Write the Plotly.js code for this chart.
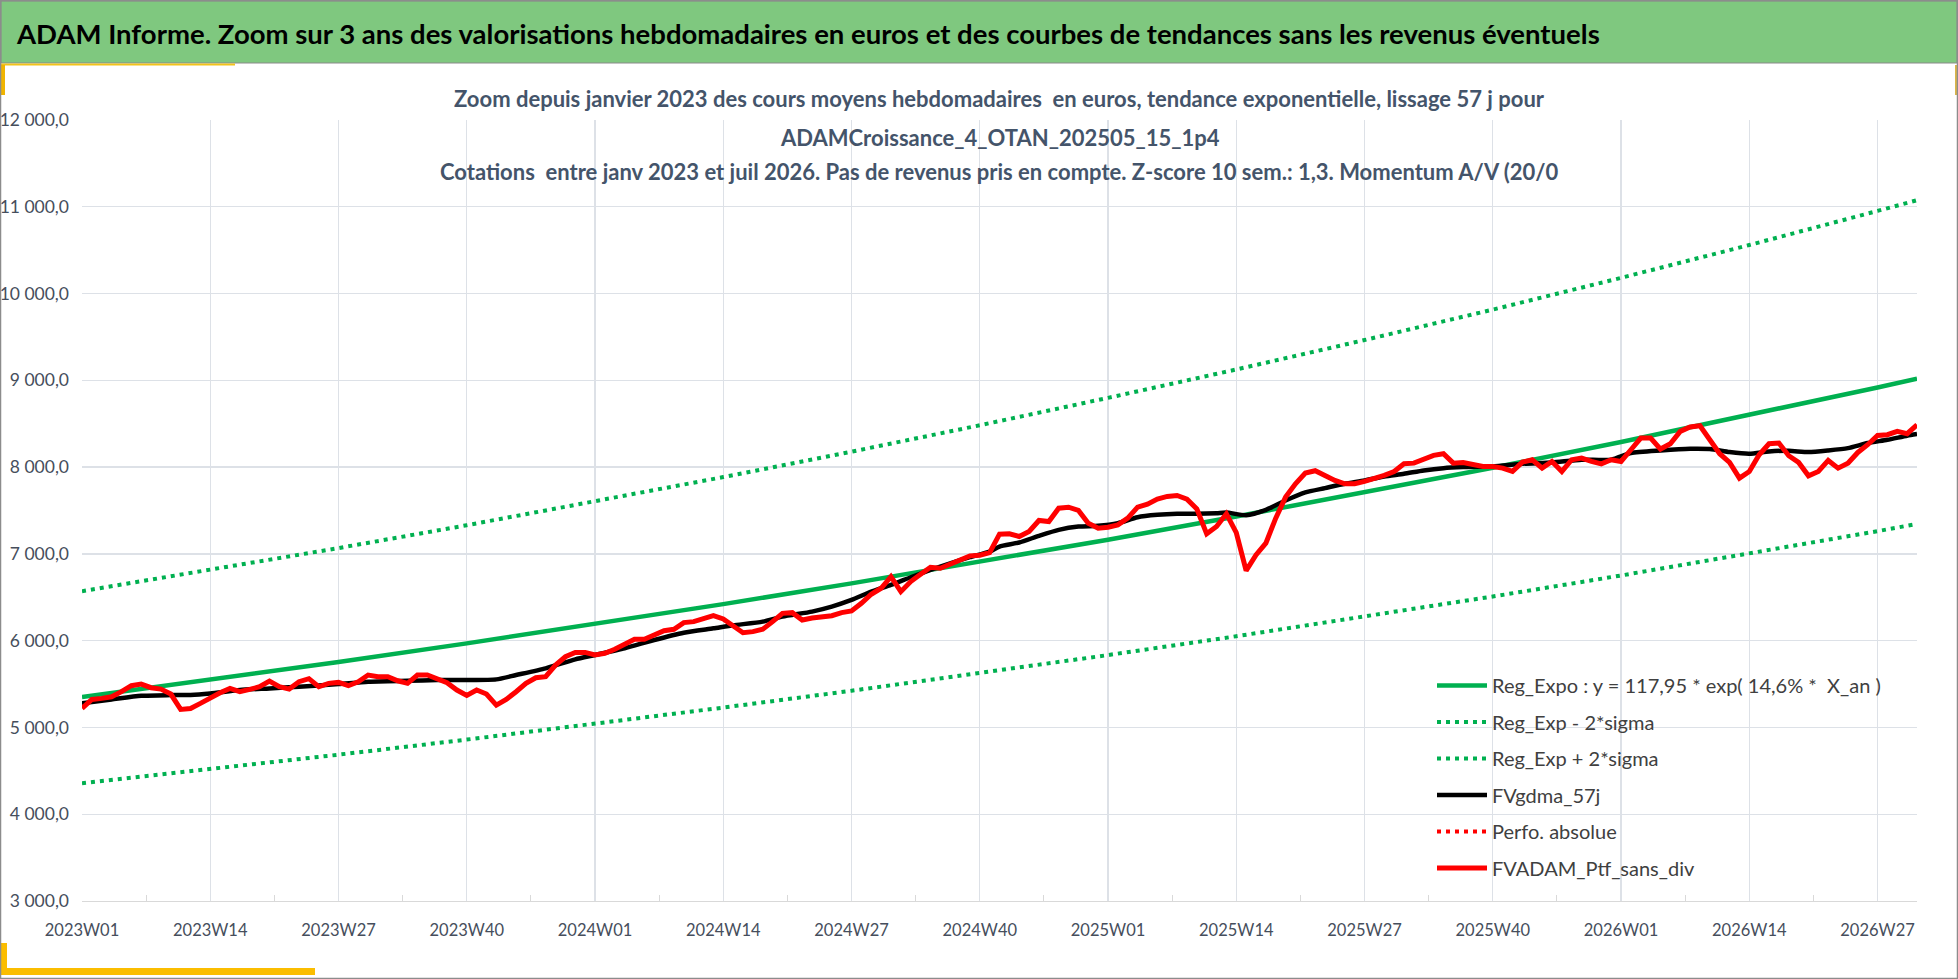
<!DOCTYPE html>
<html>
<head>
<meta charset="utf-8">
<script src="https://cdn.plot.ly/plotly-3.0.1.min.js"></script>
<style>
  html, body { margin: 0; padding: 0; background: #ffffff; }
  #chart { width: 1958px; height: 979px; }
</style>
</head>
<body>
<div id="chart"></div>
<script>
// week labels 2023W01 .. 2026W31 (52 weeks per year on this axis)
var weeks = [];
for (var i = 0; i < 187; i++) {
  weeks.push((2023 + Math.floor(i / 52)) + "W" + String(i % 52 + 1).padStart(2, "0"));
}
var tickIdx = [0, 13, 26, 39, 52, 65, 78, 91, 104, 117, 130, 143, 156, 169, 182];

// exponential regression and +/- 2 sigma bands, read at each labelled week
var regIdx = [0, 13, 26, 39, 52, 65, 78, 91, 104, 117, 130, 143, 156, 169, 182, 186];
var regExpo = [5350, 5549, 5755, 5969, 6191, 6421, 6660, 6907, 7164, 7431, 7707, 7993, 8290, 8599, 8918, 9020];
var regLow = [4357, 4518, 4686, 4860, 5041, 5229, 5423, 5624, 5834, 6051, 6276, 6509, 6751, 7002, 7262, 7345];
var regHigh = [6570, 6814, 7067, 7330, 7603, 7885, 8178, 8482, 8798, 9125, 9464, 9815, 10181, 10559, 10952, 11076];

// smoothed 57 j curve
var gdmaIdx = [0, 3, 6, 9, 11, 13, 16, 19, 22, 26, 29, 33, 36, 39, 42, 44, 47, 50, 52, 55, 58, 61, 64, 66, 69,
  71, 74, 76, 78, 80, 82, 84, 86, 88, 90, 92, 93, 95, 97, 99, 101, 103, 105, 107, 109, 111, 113, 115, 116,
  118, 120, 122, 124, 126, 128, 130, 132, 134, 136, 138, 140, 143, 146, 149, 152, 155, 157, 160, 163, 165,
  167, 169, 171, 173, 175, 177, 179, 181, 183, 185, 186];
var fvgdma = [5280, 5323, 5365, 5373, 5375, 5392, 5431, 5450, 5470, 5500, 5527, 5538, 5546, 5546, 5554, 5604,
  5681, 5785, 5835, 5912, 6008, 6092, 6142, 6177, 6219, 6277, 6335, 6392, 6469, 6565, 6642, 6731, 6815, 6892,
  6962, 7027, 7085, 7131, 7208, 7277, 7315, 7323, 7354, 7423, 7450, 7462, 7462, 7469, 7477, 7446, 7508, 7615,
  7708, 7758, 7808, 7846, 7892, 7923, 7962, 7988, 8000, 8008, 8038, 8054, 8085, 8085, 8162, 8192, 8212, 8208,
  8173, 8154, 8181, 8188, 8173, 8192, 8219, 8277, 8315, 8362, 8381];

// weekly portfolio value, no income
var fvadam = [
  5220, 5323, 5335, 5354, 5412, 5481, 5500, 5458, 5442, 5385, 5208, 5219, 5277, 5346, 5400, 5450, 5412, 5438,
  5469, 5535, 5469, 5442, 5527, 5562, 5469, 5508, 5519, 5481, 5527, 5604, 5585, 5585, 5538, 5508, 5604, 5604,
  5565, 5515, 5431, 5369, 5431, 5385, 5258, 5323, 5412, 5508, 5573, 5585, 5719, 5815, 5865, 5865, 5835, 5854,
  5900, 5958, 6015, 6015, 6065, 6115, 6131, 6208, 6219, 6250, 6288, 6250, 6169, 6092, 6104, 6131, 6219, 6315,
  6323, 6238, 6262, 6277, 6288, 6323, 6342, 6431, 6535, 6604, 6738, 6565, 6681, 6765, 6846, 6835, 6885, 6942,
  6977, 6985, 7015, 7227, 7231, 7200, 7258, 7385, 7373, 7527, 7538, 7500, 7354, 7296, 7308, 7335, 7412, 7538,
  7573, 7631, 7662, 7673, 7631, 7519, 7231, 7315, 7462, 7246, 6808, 6988, 7123, 7412, 7654, 7808, 7931, 7958,
  7900, 7846, 7808, 7808, 7835, 7865, 7904, 7950, 8038, 8046, 8092, 8135, 8154, 8046, 8054, 8027, 8008, 8008,
  7988, 7950, 8058, 8085, 7988, 8065, 7950, 8085, 8104, 8065, 8038, 8085, 8065, 8200, 8335, 8335, 8208, 8269,
  8412, 8462, 8477, 8315, 8154, 8054, 7873, 7950, 8142, 8269, 8277, 8131, 8054, 7900, 7950, 8077, 7988, 8046,
  8169, 8258, 8365, 8373, 8412, 8385, 8488];

var W = 1958, H = 979, ML = 82, MR = 41, MT = 120, MB = 78;
var PW = W - ML - MR, PH = H - MT - MB;
function px(x) { return (x - ML) / PW; }
function py(y) { return (H - MB - y) / PH; }

var FONT = "Lato, 'Open Sans', sans-serif";
var GREEN = "#00b050";
var SUB = { family: FONT, size: 22, color: "#44546a", weight: "bold" };

var traces = [
  {
    x: regIdx, y: regExpo, name: "Reg_Expo : y = 117,95 * exp( 14,6% *  X_an )",
    mode: "lines", line: { color: GREEN, width: 4.5 }, legendgroup: "a"
  },
  {
    x: regIdx, y: regLow, name: "Reg_Exp - 2*sigma",
    mode: "lines", line: { color: GREEN, width: 4, dash: "4px,5px" }, legendgroup: "b"
  },
  {
    x: regIdx, y: regHigh, name: "Reg_Exp + 2*sigma",
    mode: "lines", line: { color: GREEN, width: 4, dash: "4px,5px" }, legendgroup: "c"
  },
  {
    x: gdmaIdx, y: fvgdma, name: "FVgdma_57j",
    mode: "lines", line: { color: "#000000", width: 4.5, shape: "spline", smoothing: 0.6 }, legendgroup: "d"
  },
  {
    x: [0], y: [null], name: "Perfo. absolue",
    mode: "lines", line: { color: "#ff0000", width: 4, dash: "4px,5px" }, legendgroup: "e"
  },
  {
    x: weeks.map(function (w, k) { return k; }), y: fvadam, name: "FVADAM_Ptf_sans_div",
    text: weeks, hovertemplate: "%{text}: %{y}<extra></extra>",
    mode: "lines", line: { color: "#ff0000", width: 5 }, legendgroup: "f"
  }
];

var minorIdx = tickIdx.map(function (t) { return t + 6.5; });

var layout = {
  width: W, height: H,
  margin: { l: ML, r: MR, t: MT, b: MB },
  paper_bgcolor: "#ffffff", plot_bgcolor: "#ffffff",
  separators: ", ",
  font: { family: FONT, color: "#404040" },
  showlegend: true,
  legend: {
    x: px(1432), y: py(666), xanchor: "left", yanchor: "top",
    bgcolor: "rgba(0,0,0,0)", traceorder: "grouped", tracegroupgap: 7.5,
    itemwidth: 50, font: { family: FONT, size: 20, color: "#404040" }
  },
  xaxis: {
    range: [0, 186], tickmode: "array", tickvals: tickIdx,
    ticktext: tickIdx.map(function (t) { return weeks[t]; }),
    showgrid: true, gridcolor: "#dde1e7", gridwidth: 1.3, zeroline: false,
    showline: true, linecolor: "#d9d9d9", linewidth: 1.3, ticks: "",
    ticklabelstandoff: 14,
    tickfont: { family: FONT, size: 16.5, color: "#464e5c" },
    minor: { tickmode: "array", tickvals: minorIdx, ticks: "inside", ticklen: 6, tickcolor: "#d9d9d9", showgrid: false }
  },
  yaxis: {
    range: [3000, 12000], dtick: 1000, tickformat: ",.1f",
    showgrid: true, gridcolor: "#dde1e7", gridwidth: 1.3, zeroline: false,
    showline: false, ticks: "", ticklabelstandoff: 12,
    tickfont: { family: FONT, size: 17.5, color: "#464e5c" }
  },
  shapes: [
    { type: "rect", xref: "paper", yref: "paper", x0: px(1), x1: px(1957), y0: py(1), y1: py(63),
      fillcolor: "#7fc87f", line: { color: "#8a8a8a", width: 1 } },
    { type: "line", xref: "paper", yref: "paper", x0: px(0), x1: px(235), y0: py(64.5), y1: py(64.5),
      line: { color: "#f2c31a", width: 2 } },
    { type: "rect", xref: "paper", yref: "paper", x0: px(0), x1: px(5), y0: py(65), y1: py(95),
      fillcolor: "#f0b400", line: { width: 0 } },
    { type: "rect", xref: "paper", yref: "paper", x0: px(1955), x1: px(1958), y0: py(65), y1: py(95),
      fillcolor: "#d9b44a", line: { width: 0 } },
    { type: "rect", xref: "paper", yref: "paper", x0: px(0), x1: px(7), y0: py(943), y1: py(975),
      fillcolor: "#fbbd00", line: { width: 0 } },
    { type: "rect", xref: "paper", yref: "paper", x0: px(0), x1: px(315), y0: py(968), y1: py(975),
      fillcolor: "#fbbd00", line: { width: 0 } },
    { type: "rect", xref: "paper", yref: "paper", x0: px(0.5), x1: px(1957.5), y0: py(0.5), y1: py(978.5),
      line: { color: "#8c8c8c", width: 1.5 } }
  ],
  annotations: [
    { text: "ADAM Informe. Zoom sur 3 ans des valorisations hebdomadaires en euros et des courbes de tendances sans les revenus éventuels",
      xref: "paper", yref: "paper", x: px(14), y: py(33), xanchor: "left", yanchor: "middle", showarrow: false,
      font: { family: FONT, size: 27.5, color: "#000000", weight: "bold" } },
    { text: "Zoom depuis janvier 2023 des cours moyens hebdomadaires  en euros, tendance exponentielle, lissage 57 j pour",
      xref: "paper", yref: "paper", x: 0.5, y: py(99), xanchor: "center", yanchor: "middle", showarrow: false,
      font: SUB },
    { text: "ADAMCroissance_4_OTAN_202505_15_1p4",
      xref: "paper", yref: "paper", x: 0.5, y: py(137), xanchor: "center", yanchor: "middle", showarrow: false,
      font: SUB },
    { text: "Cotations  entre janv 2023 et juil 2026. Pas de revenus pris en compte. Z-score 10 sem.: 1,3. Momentum A/V (20/0",
      xref: "paper", yref: "paper", x: 0.5, y: py(171), xanchor: "center", yanchor: "middle", showarrow: false,
      font: SUB }
  ]
};

Plotly.newPlot("chart", traces, layout, { displayModeBar: false, staticPlot: true });
</script>
</body>
</html>
